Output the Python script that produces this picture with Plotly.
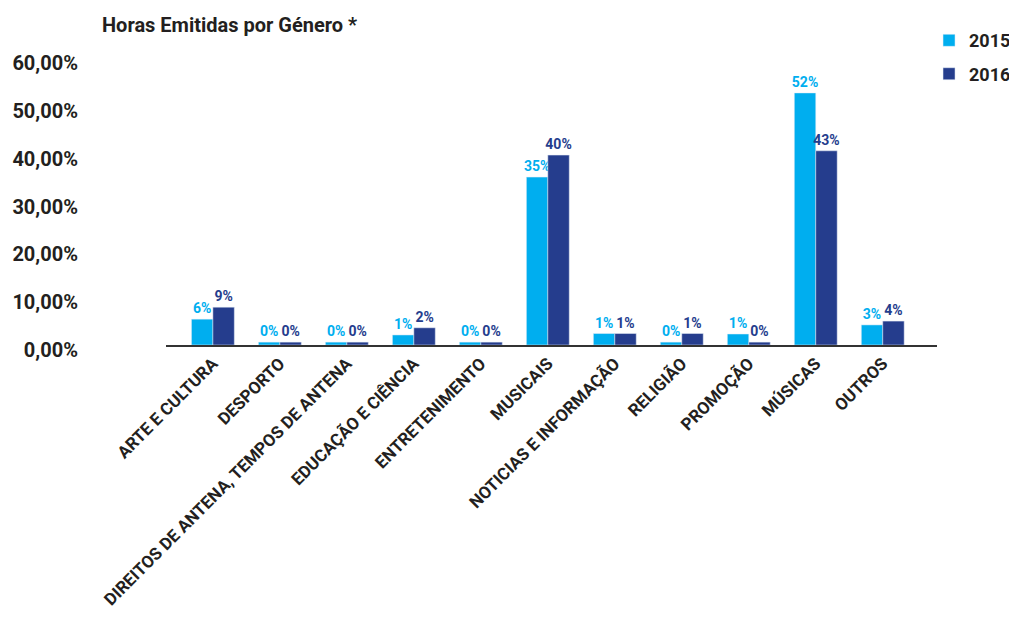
import plotly.graph_objects as go

categories = ["ARTE E CULTURA", "DESPORTO", "DIREITOS DE ANTENA, TEMPOS DE ANTENA",
              "EDUCAÇÃO E CIÊNCIA", "ENTRETENIMENTO", "MUSICAIS",
              "NOTICIAS E INFORMAÇÃO", "RELIGIÃO", "PROMOÇÃO", "MÚSICAS", "OUTROS"]
values_2015 = [5.4, 0.6, 0.6, 2.1, 0.6, 35.1, 2.4, 0.6, 2.3, 52.7, 4.2]
values_2016 = [7.9, 0.6, 0.6, 3.6, 0.6, 39.7, 2.4, 2.4, 0.6, 40.6, 5.0]
labels_2015 = ["6%", "0%", "0%", "1%", "0%", "35%", "1%", "0%", "1%", "52%", "3%"]
labels_2016 = ["9%", "0%", "0%", "2%", "0%", "40%", "1%", "1%", "0%", "43%", "4%"]
y_ticks = [0, 10, 20, 30, 40, 50, 60]
y_tick_labels = ["0,00%", "10,00%", "20,00%", "30,00%", "40,00%", "50,00%", "60,00%"]

C15 = "#00AEEF"
C16 = "#253D8D"
TXT = "#231F20"
FONT = "Roboto"

fig = go.Figure()
fig.add_trace(go.Bar(name="2015", x=categories, y=values_2015, marker_color=C15,
                     text=labels_2015, textposition="outside", cliponaxis=False,
                     constraintext="none",
                     textfont=dict(family=FONT, size=14, color=C15, weight="bold"),
                     legendgroup="a"))
fig.add_trace(go.Bar(name="2016", x=categories, y=values_2016, marker_color=C16,
                     text=labels_2016, textposition="outside", cliponaxis=False,
                     constraintext="none",
                     textfont=dict(family=FONT, size=14, color=C16, weight="bold"),
                     legendgroup="b"))

fig.update_layout(
    width=1017, height=620,
    margin=dict(l=158, r=88, t=50, b=283, autoexpand=False),
    paper_bgcolor="white", plot_bgcolor="white",
    barmode="group", bargap=0.36, bargroupgap=0,
    title=dict(text="Horas Emitidas por Género *", x=94/1017, xref="container", xanchor="left",
               y=1 - 17/620, yref="container", yanchor="middle",
               font=dict(family=FONT, size=20, color=TXT, weight="bold")),
    legend=dict(x=1.1025, xanchor="right", y=1.125, yanchor="top",
                font=dict(family=FONT, size=18, color=TXT, weight="bold"),
                tracegroupgap=7, bgcolor="rgba(0,0,0,0)"),
    font=dict(family=FONT, color=TXT),
)
fig.update_xaxes(range=[-0.70, 10.81], showline=True, linecolor="#333333", linewidth=2,
                 showgrid=False, ticks="", tickangle=-45, automargin=False,
                 tickfont=dict(family=FONT, size=17, color=TXT, weight="bold"))
fig.update_yaxes(range=[0, 60], tickvals=y_ticks, ticktext=y_tick_labels,
                 showgrid=False, zeroline=False, showline=False, ticks="", automargin=False,
                 ticklabelstandoff=87, ticklabelshift=5,
                 tickfont=dict(family=FONT, size=20, color=TXT, weight="bold"))

fig.write_html("out.html")
